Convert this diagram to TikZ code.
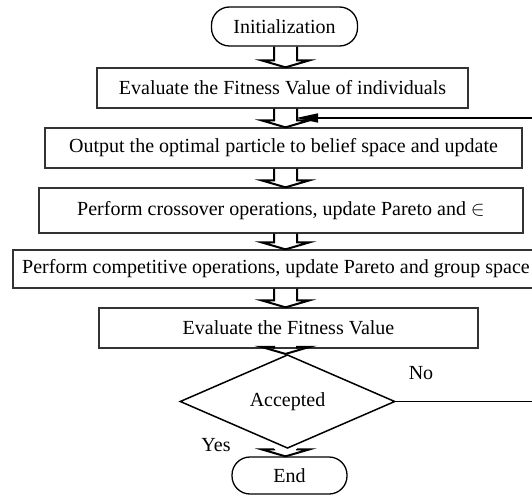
\documentclass[tikz,border=0pt]{standalone}
\usepackage{fontspec}
\setmainfont{Liberation Serif}
\usepackage{amssymb}
\usetikzlibrary{shapes.geometric,calc,arrows.meta}

\tikzset{
  procbox/.style={draw=black!80, line width=1.3pt, rectangle, inner sep=0pt, font=\fontsize{20}{22}\selectfont},
  termbox/.style={draw=black, line width=1.3pt, rectangle, rounded corners=18pt, inner sep=0pt, font=\fontsize{20}{22}\selectfont},
  decbox/.style={draw=black, line width=1.5pt, diamond, inner sep=0pt, font=\fontsize{20}{22}\selectfont},
  fatline/.style={draw=black, line width=2pt, line join=miter},
  backline/.style={draw=black, line width=1.5pt},
  lbl/.style={font=\fontsize{20}{22}\selectfont}
}

% hollow block arrow between two nodes, centred on the spine
\newcommand{\fatarrow}[2]{%
  \draw[fatline] ($(#1.south -| spine)+(-11.5,0)$) -- ($(#2.north -| spine)+(-11.5,7)$)
    -- ++(-12.5,0) -- (#2.north -| spine) -- ++(24,7) -- ++(-12.5,0)
    -- ($(#1.south -| spine)+(11.5,0)$);}

\begin{document}
\begin{tikzpicture}[x=1pt,y=1pt]
      \useasboundingbox (0,0) rectangle (532,-497);
      \coordinate (spine) at (285.5,0);
      \node[termbox, minimum width=146pt, minimum height=39pt] (init) at (284.5,-26.5) {Initialization};
      \node[procbox, minimum width=371pt, minimum height=40pt] (fit) at (282.5,-88) {Evaluate the Fitness Value of individuals};
      \node[procbox, minimum width=477pt, minimum height=40pt] (belief) at (283.5,-148) {Output the optimal particle to belief space and update};
      \node[procbox, minimum width=484pt, minimum height=45pt] (cross) at (281,-210.5) {Perform crossover operations, update Pareto and $\in$};
      \node[procbox, minimum width=526pt, minimum height=38pt] (compet) at (276,-269) {Perform competitive operations, update Pareto and group space};
      \node[procbox, minimum width=379pt, minimum height=40pt] (refit) at (288.5,-328) {Evaluate the Fitness Value};
      \node[decbox, minimum width=215pt, minimum height=63pt] (accept) at (287.5,-401.5) {Accepted};
      \node[termbox, minimum width=115pt, minimum height=37pt] (end) at (289.5,-475.5) {End};
      \node[lbl] (no) at (421,-373) {No};
      \node[lbl] (yes) at (216,-445) {Yes};
      \coordinate (fb) at (296,-118);
      \coordinate (edge) at (536,-401.5);

      \fatarrow{init}{fit}
      \fatarrow{fit}{belief}
      \fatarrow{belief}{cross}
      \fatarrow{cross}{compet}
      \fatarrow{compet}{refit}
      \fatarrow{refit}{accept}
      \fatarrow{accept}{end}

      \draw[backline, -{Triangle[length=22pt,width=9pt]}] (accept.east) -- (edge) |- (fb);
    \end{tikzpicture}
\end{document}
